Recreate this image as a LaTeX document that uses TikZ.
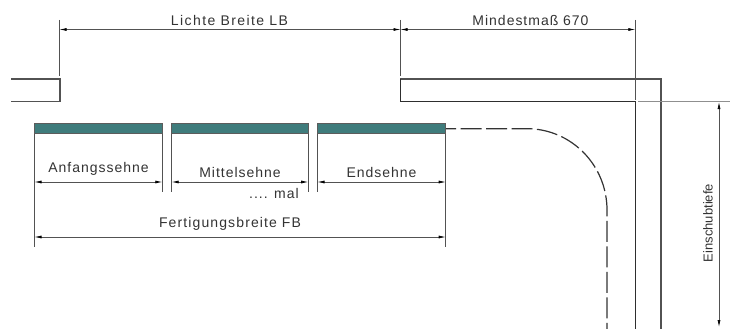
\documentclass[tikz,border=0pt]{standalone}
\usepackage{fontspec}
\setmainfont{Liberation Sans}[LetterSpace=7]
\newfontfamily\widelab{Liberation Sans}[LetterSpace=10]
\newfontfamily\midlab{Liberation Sans}[LetterSpace=8]
\newfontfamily\tightlab{Liberation Sans}
\usetikzlibrary{arrows.meta}
\definecolor{teal1}{HTML}{3F7C7C}
\definecolor{ink}{HTML}{333333}
\tikzset{
  wall/.style={line width=1.2pt,draw=ink!85},
  thinwall/.style={line width=1.1pt,draw=ink!90!black},
  ext/.style={line width=0.7pt,draw=ink!85},
  dimline/.style={line width=0.7pt,draw=ink!85,{Latex[length=7pt,width=3pt,black]}-{Latex[length=7pt,width=3pt,black]}},
  sehne/.style={fill=teal1,draw=ink!80,line width=0.7pt,minimum height=10pt,inner sep=0pt,outer sep=0pt,anchor=north west},
  lab/.style={font=\fontsize{14}{16}\selectfont,text=ink,inner sep=0pt},
  hidden/.style={line width=1.2pt,draw=ink,dash pattern=on 21pt off 4.5pt},
}
\begin{document}
\begin{tikzpicture}[x=1pt,y=-1pt]
\useasboundingbox (0,0) rectangle (733,329);
% Sehnen
\node[sehne,minimum width=127.8pt] (s1) at (34.5,123) {};
\node[sehne,minimum width=136.5pt] (s2) at (171.7,123) {};
\node[sehne,minimum width=128.4pt] (s3) at (317.3,123) {};
% Named points
\coordinate (w0) at (11,79);
\coordinate (w1) at (60,79);
\coordinate (w2) at (60,101.5);
\coordinate (w3) at (11,101.5);
\coordinate (r1) at (400.5,79);
\coordinate (r2) at (661,79);
\coordinate (r3) at (661,329);
\coordinate (r4) at (400.5,101.5);
\coordinate (r5) at (635.5,101.5);
\coordinate (r6) at (635.5,329);
% Walls
\draw[wall] (w0) -- (w1) -- (w2) -- (w3);
\draw[wall,line join=miter] (r4) -- (r1) -- (r2) -- (r3);
\draw[thinwall] (r1) -- (r4) -- (r5) -- (r6);
% Top extension lines
\coordinate (e1a) at (59.5,20); \coordinate (e1b) at (59.5,76);
\coordinate (e2a) at (400.5,20); \coordinate (e2b) at (400.5,76);
\coordinate (e3a) at (635.3,20); \coordinate (e3b) at (635.3,100);
\draw[ext] (e1a) -- (e1b);
\draw[ext] (e2a) -- (e2b);
\draw[ext] (e3a) -- (e3b);
\coordinate (d1) at (59.5,29.5); \coordinate (d2) at (400.5,29.5); \coordinate (d3) at (635.3,29.5);
\draw[dimline] (d1) -- (d2);
\draw[dimline] (d2) -- (d3);
\node[lab] (tLB) at (229.5,20) {\widelab Lichte Breite LB};
\node[lab] (tMM) at (530.5,20) {Mindestmaß 670};
% Sehne extensions
\coordinate (a1) at (34.5,134); \coordinate (a1e) at (34.5,246.7);
\coordinate (a2) at (162.3,134); \coordinate (a2e) at (162.3,191.5);
\coordinate (a3) at (171.7,134); \coordinate (a3e) at (171.7,191.5);
\coordinate (a4) at (308.2,134); \coordinate (a4e) at (308.2,191.5);
\coordinate (a5) at (317.5,134); \coordinate (a5e) at (317.5,191.5);
\coordinate (a6) at (445.7,134); \coordinate (a6e) at (445.7,246.7);
\foreach \p/\q in {a1/a1e,a2/a2e,a3/a3e,a4/a4e,a5/a5e,a6/a6e} \draw[ext] (\p) -- (\q);
\coordinate (b1) at (34.5,182); \coordinate (b2) at (162.3,182);
\coordinate (b3) at (171.7,182); \coordinate (b4) at (308.2,182);
\coordinate (b5) at (317.5,182); \coordinate (b6) at (445.7,182);
\draw[dimline] (b1) -- (b2);
\draw[dimline] (b3) -- (b4);
\draw[dimline] (b5) -- (b6);
\coordinate (c1) at (34.5,237); \coordinate (c2) at (445.7,237);
\draw[dimline] (c1) -- (c2);
\node[lab] (tA) at (98.5,169) {Anfangssehne};
\node[lab] (tM) at (240,172) {Mittelsehne};
\node[lab] (tE) at (381.5,172) {Endsehne};
\node[lab] (tX) at (274,193) {.... mal};
\node[lab] (tF) at (230,224) {\midlab Fertigungsbreite FB};
% Right dimension
\coordinate (h1) at (638,101.5); \coordinate (h2) at (730,101.5);
\draw[ext,draw=ink!55] (h1) -- (h2);
\coordinate (v1) at (719,102); \coordinate (v2) at (719,327);
\draw[dimline] (v1) -- (v2);
\node[lab,rotate=90,font=\fontsize{13}{15}\selectfont] (tT) at (708,223) {\tightlab Einschubtiefe};
% Dashed path
\coordinate (p0) at (446,128.7);
\coordinate (p1) at (527,128.7);
\coordinate (p2) at (607,210);
\coordinate (p3) at (607,329);
\draw[hidden,dash phase=11pt] (p0) -- (p1) .. controls (571,128.7) and (607,165) .. (p2) -- (p3);
\end{tikzpicture}
\end{document}
